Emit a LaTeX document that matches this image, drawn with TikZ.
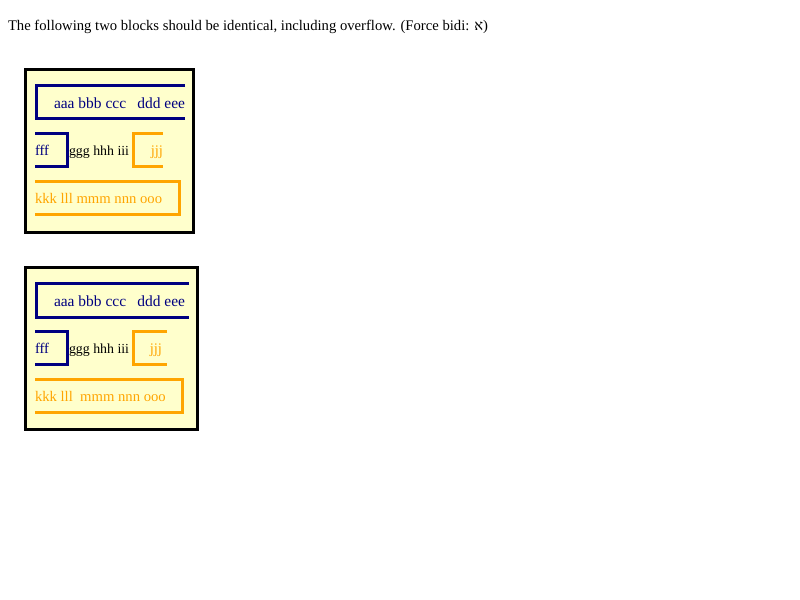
\documentclass[tikz,border=0pt]{standalone}
\usepackage{fontspec}
\setmainfont{Liberation Serif}
\newfontfamily\hebfont[Script=Hebrew]{Liberation Serif}
\TeXXeTstate=1
\definecolor{boxyellow}{HTML}{FFFFCC}
\definecolor{navyc}{HTML}{000080}
\definecolor{orangec}{HTML}{FFA500}
\begin{document}
\begin{tikzpicture}[x=0.75pt,y=-0.75pt,
  txt/.style={inner sep=0pt,outer sep=0pt,anchor=base west,font=\fontsize{11pt}{13pt}\selectfont},
  txtr/.style={txt,anchor=base east},
  wide/.style={font=\fontsize{11.6pt}{13pt}\selectfont},
  narrow/.style={font=\fontsize{10.4pt}{13pt}\selectfont},
  outerbox/.style={draw=black,fill=boxyellow,line width=2.25pt},
  bluebox/.style={draw=navyc,line width=2.25pt,miter limit=10},
  orangebox/.style={draw=orangec,line width=2.25pt,miter limit=10}]
\useasboundingbox[fill=white] (0,0) rectangle (800,600);
\node[txt] (title) at (8,30) {The following two blocks should be identical, including overflow. (Force bidi: {\hebfont\beginR א\endR})};
% block 1
\draw[outerbox] (25.5,69.5) rectangle (193.5,232.5);
\draw[bluebox] (185,85.5) -- (36.5,85.5) -- (36.5,118.5) -- (185,118.5);
\node[txt,wide,text=navyc] (a1) at (54,108) {aaa bbb ccc};
\node[txtr,wide,text=navyc] (d1) at (185,108) {ddd eee};
\draw[bluebox] (35,133.5) -- (67.5,133.5) -- (67.5,166.5) -- (35,166.5);
\node[txt,text=navyc] (f1) at (35,155) {fff};
\node[txt,narrow] (g1) at (69,155) {ggg hhh iii};
\draw[orangebox] (163,133.5) -- (133.5,133.5) -- (133.5,166.5) -- (163,166.5);
\node[txtr,text=orangec] (j1) at (163,155) {jjj};
\draw[orangebox] (35,181.5) -- (179.5,181.5) -- (179.5,214.5) -- (35,214.5);
\node[txt,text=orangec] (k1) at (35,203) {kkk lll mmm nnn ooo};
% block 2
\draw[outerbox] (25.5,267.5) rectangle (197.5,429.5);
\draw[bluebox] (189,283.5) -- (36.5,283.5) -- (36.5,317.5) -- (189,317.5);
\node[txt,wide,text=navyc] (a2) at (54,306) {aaa bbb ccc};
\node[txtr,wide,text=navyc] (d2) at (185,306) {ddd eee};
\draw[bluebox] (35,331.5) -- (67.5,331.5) -- (67.5,364.5) -- (35,364.5);
\node[txt,text=navyc] (f2) at (35,353) {fff};
\node[txt,narrow] (g2) at (69,353) {ggg hhh iii};
\draw[orangebox] (167,331.5) -- (133.5,331.5) -- (133.5,364.5) -- (167,364.5);
\node[txtr,text=orangec] (j2) at (162,353) {jjj};
\draw[orangebox] (35,379.5) -- (182.5,379.5) -- (182.5,412.5) -- (35,412.5);
\node[txt,text=orangec] (k2) at (35,401) {kkk lll\ \ mmm nnn ooo};
\end{tikzpicture}
\end{document}
